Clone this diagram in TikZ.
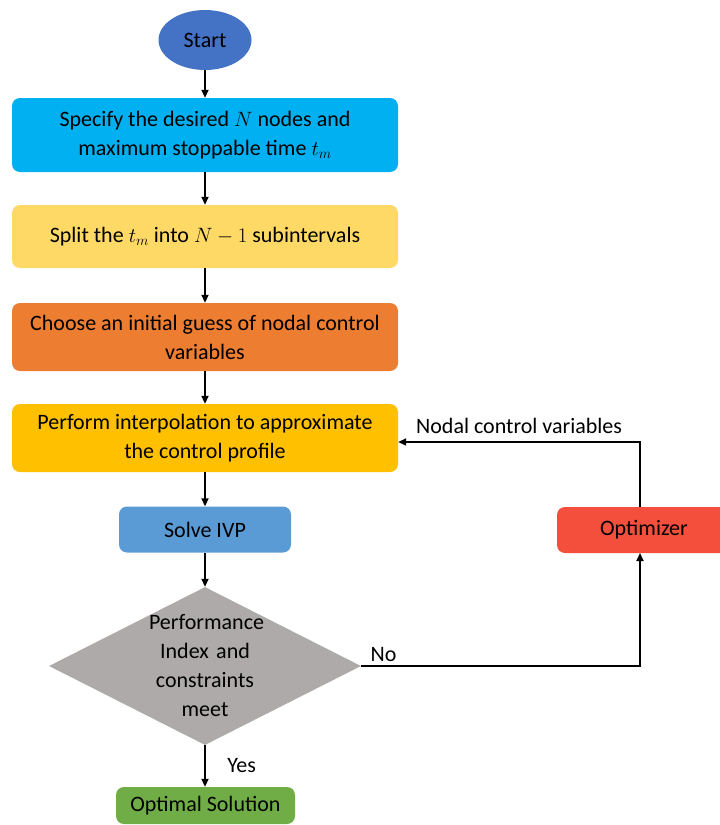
\documentclass[tikz,border=0pt]{standalone}
\usepackage{fontspec}
\setmainfont{Carlito}
\usetikzlibrary{shapes.geometric,arrows.meta}

\definecolor{startblue}{HTML}{4472C4}
\definecolor{skyblue}{HTML}{00B0F0}
\definecolor{paleyellow}{HTML}{FFD966}
\definecolor{orange}{HTML}{ED7D31}
\definecolor{gold}{HTML}{FFC000}
\definecolor{ivpblue}{HTML}{5B9BD5}
\definecolor{stone}{HTML}{AEAAAA}
\definecolor{leaf}{HTML}{70AD47}
\definecolor{tomato}{HTML}{F44E3C}

\begin{document}
\begin{tikzpicture}[
      x=1pt, y=-1pt,
      font=\fontsize{22}{29}\selectfont,
      flow box/.style ={fill=#1, rounded corners=8pt, align=center, inner sep=0pt,
                        minimum width=386pt},
      flow box/.default=gray,
      small box/.style ={flow box=#1, minimum width=174pt, minimum height=46pt},
      decision/.style ={diamond, aspect=1.97, fill=stone, align=center, text width=112pt,
                        inner sep=-4pt, minimum width=312pt, minimum height=158pt},
      flow/.style ={line width=1.9pt, -{Triangle[length=8pt,width=7pt]}}]
    \clip (0,0) rectangle (720,825);
    \node[ellipse, fill=startblue, minimum width=93pt, minimum height=60pt, inner sep=0pt]
        (start) at (205,40) {Start};
    \node[flow box=skyblue, minimum height=74pt] (spec) at (205,135)
        {Specify the desired $N$ nodes and\\maximum stoppable time $t_m$};
    \node[flow box=paleyellow, minimum height=63pt] (split) at (205,236.5)
        {Split the $t_m$ into $N-1$ subintervals};
    \node[flow box=orange, minimum height=68pt] (guess) at (205,337)
        {Choose an initial guess of nodal control\\variables};
    \node[flow box=gold, minimum height=68pt] (interp) at (205,438)
        {Perform interpolation to approximate\\the control profile};
    \node[small box=ivpblue, minimum width=172pt] (ivp) at (205,529.5) {Solve IVP};
    \node[decision] (perf) at (205,666)
        {Performance\\Index and\\constraints\\meet};
    \node[small box=leaf, minimum width=179pt, minimum height=37pt] (optimal) at (205.5,805.5)
        {Optimal Solution};
    \node[small box=tomato] (optim) at (644,530) {Optimizer};

    \draw[flow] (start) -- (spec);
    \draw[flow] (spec) -- (split);
    \draw[flow] (split) -- (guess);
    \draw[flow] (guess) -- (interp);
    \draw[flow] (interp) -- (ivp);
    \draw[flow] (ivp) -- (perf);
    \draw[flow] (perf.south) -- node[right=18pt] {Yes} (perf.south |- optimal.north);
    \draw[flow] (perf.east) -- node[pos=0.08, above] {No} (perf.east -| 640,0) -- (640,553);
    \draw[flow] (640,507) -- (640,442) -- node[pos=0.5, above=4pt] {Nodal control variables}
        (interp.east |- 640,442);
    \end{tikzpicture}
\end{document}
